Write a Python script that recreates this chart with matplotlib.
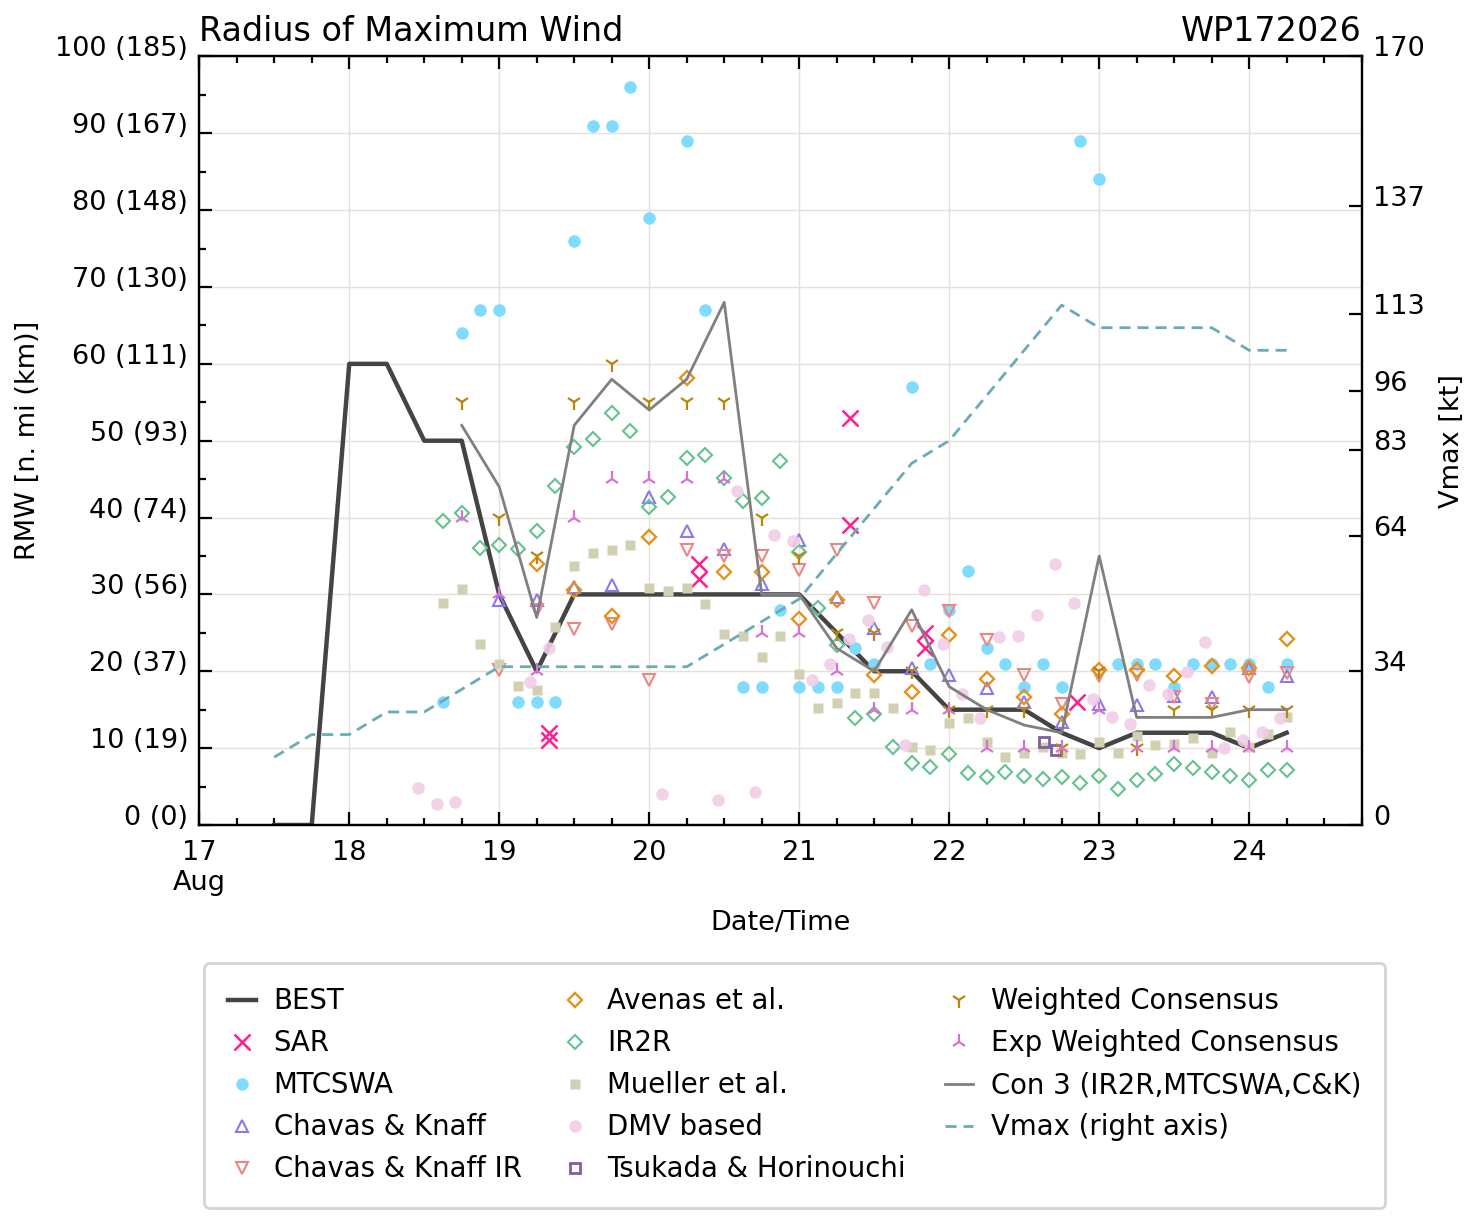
import matplotlib
matplotlib.use("Agg")
import matplotlib.pyplot as plt
from matplotlib.ticker import MultipleLocator

# ---- data: time in days of Aug 2026, RMW in n mi ----
best_t = [17.5, 17.75, 18.0, 18.25, 18.5, 18.75, 19.0, 19.25, 19.5, 19.75, 20.0, 20.25, 20.5, 20.75,
          21.0, 21.25, 21.5, 21.75, 22.0, 22.25, 22.5, 22.75, 23.0, 23.25, 23.5, 23.75, 24.0, 24.25]
best_rmw = [0, 0, 60, 60, 50, 50, 30, 20, 30, 30, 30, 30, 30, 30,
            30, 25, 20, 20, 15, 15, 15, 12, 10, 12, 12, 12, 10, 12]
vmax_kt = [15, 20, 20, 25, 25, 30, 35, 35, 35, 35, 35, 35, 40, 45,
           50, 60, 70, 80, 85, 95, 105, 115, 110, 110, 110, 110, 105, 105]

sar_t = [19.33, 19.33, 20.33, 20.33, 21.34, 21.34, 21.84, 21.84, 22.85]
sar_rmw = [12, 11, 34, 32, 53, 39, 25, 23, 16]

mtc_t = [18.625, 18.75, 18.875, 19.0, 19.125, 19.25, 19.375, 19.5, 19.625, 19.75, 19.875, 20.0,
         20.25, 20.375, 20.625, 20.75, 20.875, 21.0, 21.125, 21.25, 21.375, 21.5, 21.75, 21.875,
         22.0, 22.125, 22.25, 22.375, 22.5, 22.625, 22.75, 22.875, 23.0, 23.125, 23.25, 23.375,
         23.5, 23.625, 23.75, 23.875, 24.0, 24.125, 24.25]
mtc_rmw = [16, 64, 67, 67, 16, 16, 16, 76, 91, 91, 96, 79,
           89, 67, 18, 18, 28, 18, 18, 18, 23, 21, 57, 21,
           28, 33, 23, 21, 18, 21, 18, 89, 84, 21, 21, 21,
           18, 21, 21, 21, 21, 18, 21]

six_t = [19.0, 19.25, 19.5, 19.75, 20.0, 20.25, 20.5, 20.75, 21.0, 21.25, 21.5, 21.75,
         22.0, 22.25, 22.5, 22.75, 23.0, 23.25, 23.5, 23.75, 24.0, 24.25]
ck_rmw = [29.3, 29.3, 31.0, 31.2, 42.7, 38.2, 35.9, 31.4, 37.1, 29.6, 25.6, 20.4,
          19.5, 17.8, 16.0, 13.4, 15.7, 15.6, 16.8, 16.7, 20.4, 19.4]
ckir_rmw = [20.2, 28.0, 25.5, 26.2, 18.9, 35.8, 35.0, 35.0, 33.2, 35.8, 28.9, 25.9,
            27.9, 24.1, 19.5, 15.8, 19.4, 19.5, 16.7, 15.7, 19.2, 19.8]

aven_t = six_t[1:]
aven_rmw = [34.0, 30.6, 27.2, 37.5, 58.1, 32.9, 32.9, 26.8, 29.3, 19.5, 17.3,
            24.7, 19.0, 16.7, 14.5, 20.2, 20.2, 19.4, 20.7, 20.4, 24.2]

ir2r_t = [18.625, 18.75, 18.875, 19.0, 19.125, 19.25, 19.375, 19.5, 19.625, 19.75, 19.875, 20.0,
          20.125, 20.25, 20.375, 20.5, 20.625, 20.75, 20.875, 21.0, 21.125, 21.25, 21.375, 21.5,
          21.625, 21.75, 21.875, 22.0, 22.125, 22.25, 22.375, 22.5, 22.625, 22.75, 22.875, 23.0,
          23.125, 23.25, 23.375, 23.5, 23.625, 23.75, 23.875, 24.0, 24.125, 24.25]
ir2r_rmw = [39.6, 40.6, 36.1, 36.4, 35.9, 38.2, 44.1, 49.2, 50.2, 53.6, 51.2, 41.4,
            42.7, 47.8, 48.1, 45.2, 42.2, 42.5, 47.4, 35.5, 28.2, 23.4, 13.9, 14.5,
            10.2, 8.0, 7.6, 9.2, 6.8, 6.3, 6.9, 6.4, 6.0, 6.2, 5.4, 6.4,
            4.7, 5.8, 6.6, 7.9, 7.4, 6.9, 6.4, 5.9, 7.1, 7.1]
muel_t = ir2r_t
muel_rmw = [28.9, 30.7, 23.6, 21.0, 18.1, 17.5, 25.7, 33.7, 35.4, 35.8, 36.4, 30.8,
            30.5, 30.9, 28.8, 24.9, 24.6, 21.9, 24.6, 19.6, 15.2, 15.9, 17.2, 17.2,
            15.2, 10.2, 9.8, 13.3, 13.9, 10.8, 8.8, 9.4, 10.2, 9.4, 9.2, 10.8,
            9.4, 11.6, 10.4, 10.6, 11.3, 9.4, 12.1, 10.2, 11.8, 14.1]

dmv_t = [18.458, 18.583, 18.708, 19.208, 19.333, 20.083, 20.458, 20.583, 20.708, 20.833, 20.958,
         21.083, 21.208, 21.333, 21.458, 21.583, 21.708, 21.833, 21.958, 22.083, 22.208, 22.333,
         22.458, 22.583, 22.708, 22.833, 22.958, 23.083, 23.208, 23.333, 23.458, 23.583, 23.708,
         23.833, 23.958, 24.083, 24.208]
dmv_rmw = [4.8, 2.7, 3.0, 18.6, 23.0, 4.0, 3.3, 43.5, 4.3, 37.7, 36.9,
           18.9, 21.0, 24.2, 26.7, 23.2, 10.4, 30.6, 23.6, 17.1, 13.9, 24.4,
           24.6, 27.3, 34.0, 28.9, 16.4, 14.0, 13.2, 18.2, 17.1, 19.9, 23.8,
           10.0, 11.1, 12.1, 13.9]

tsuk_t = [22.63, 22.71]
tsuk_rmw = [10.8, 9.8]

cons_t = best_t[5:]
wcons_rmw = [55, 40, 35, 55, 60, 55, 55, 55, 40, 35, 25, 25, 20,
             15, 15, 15, 10, 20, 10, 15, 15, 15, 15]
ewcons_rmw = [40, 30, 20, 40, 45, 45, 45, 45, 25, 25, 20, 15, 15,
              15, 10, 10, 10, 15, 10, 10, 10, 10, 10]
con3_rmw = [52, 44, 27, 52, 58, 54, 58, 68, 30, 30, 23, 20, 28,
            18, 15, 13, 12, 35, 14, 14, 14, 15, 15]

day_ticks = [17, 18, 19, 20, 21, 22, 23, 24]
day_labels = ["17\nAug", "18", "19", "20", "21", "22", "23", "24"]
rmw_ticks = [0, 10, 20, 30, 40, 50, 60, 70, 80, 90, 100]
vmax_ticks = [0, 34, 64, 83, 96, 113, 137, 170]

# ---- plot ----
fs = 19.5
plt.rcParams['font.family'] = 'DejaVu Sans'
fig = plt.figure(figsize=(14.77, 12.22), dpi=100)
ax = fig.add_axes([0.1349, 0.3249, 0.7870, 0.6289])

ax.plot(best_t, best_rmw, color='#444444', lw=3.2, label='BEST')
ax.plot(sar_t, sar_rmw, 'x', color='#ff1f8e', ms=12, mew=1.8, label='SAR')
ax.plot(mtc_t, mtc_rmw, 'o', color='#7fdbff', ms=9, mec='none', label='MTCSWA')
ax.plot(six_t, ck_rmw, '^', color='#8c78ee', ms=8, mfc='none', mew=1.5, label='Chavas & Knaff')
ax.plot(six_t, ckir_rmw, 'v', color='#ee8585', ms=8, mfc='none', mew=1.5, label='Chavas & Knaff IR')
ax.plot(aven_t, aven_rmw, 'D', color='#e6921e', ms=7, mfc='none', mew=1.7, label='Avenas et al.')
ax.plot(ir2r_t, ir2r_rmw, 'D', color='#63c28d', ms=7, mfc='none', mew=1.5, label='IR2R')
ax.plot(muel_t, muel_rmw, 's', color='#d2d0b2', ms=7, mec='none', label='Mueller et al.')
ax.plot(dmv_t, dmv_rmw, 'o', color='#f0cde6', ms=9, mec='none', alpha=0.9, label='DMV based')
ax.plot(tsuk_t, tsuk_rmw, 's', color='#7f5da8', ms=7.5, mfc='none', mew=2, label='Tsukada & Horinouchi')
ax.plot(cons_t, wcons_rmw, '1', color='#b8860b', ms=11, mew=1.6, label='Weighted Consensus')
ax.plot(cons_t, ewcons_rmw, '2', color='#da70d6', ms=11, mew=1.6, label='Exp Weighted Consensus')
ax.plot(cons_t, con3_rmw, color='#808080', lw=2, label='Con 3 (IR2R,MTCSWA,C&K)')

ax2 = ax.twinx()
ax2.plot(best_t, vmax_kt, '--', color='#6aabb4', lw=2, dashes=(4, 2.5), label='Vmax (right axis)')

ax.set_xlim(17, 24.75)
ax.set_ylim(0, 100)
ax2.set_ylim(0, 170)

ax.set_xticks(day_ticks)
ax.set_xticklabels(day_labels, fontsize=fs)
ax.xaxis.set_minor_locator(MultipleLocator(0.25))
ax.set_yticks(rmw_ticks)
ax.set_yticklabels(["%d (%d)" % (v, round(v * 1.852)) for v in rmw_ticks], fontsize=fs, va='baseline')
ax.yaxis.set_minor_locator(MultipleLocator(5))
ax2.set_yticks(vmax_ticks)
ax2.set_yticklabels([str(v) for v in vmax_ticks], fontsize=fs, va='baseline')

ax.tick_params(which='both', direction='in', top=True, right=False, width=1.6, pad=8)
ax.tick_params(axis='x', which='major', pad=11)
ax.tick_params(which='major', length=9.5)
ax.tick_params(which='minor', length=5)
ax2.tick_params(direction='in', length=9.5, width=1.6, pad=8)
for a in (ax, ax2):
    for s in a.spines.values():
        s.set_linewidth(1.6)

ax.grid(True, which='major', color='#e6e0d6', lw=1)
ax.set_axisbelow(True)

ax.set_xlabel('Date/Time', fontsize=fs, labelpad=10)
ax.set_ylabel('RMW [n. mi (km)]', fontsize=fs, labelpad=10)
ax2.set_ylabel('Vmax [kt]', fontsize=fs, labelpad=10)
ax.set_title('Radius of Maximum Wind', loc='left', fontsize=24, pad=11)
ax.set_title('WP172026', loc='right', fontsize=24, pad=11)

h1, l1 = ax.get_legend_handles_labels()
h2, l2 = ax2.get_legend_handles_labels()
leg = fig.legend(h1 + h2, l1 + l2, ncol=3, loc='upper left',
                 bbox_to_anchor=(204 / 1477, 1 - 963 / 1222), borderaxespad=0,
                 fontsize=19.8, handlelength=1.0, handletextpad=0.65, columnspacing=1.45,
                 labelspacing=0.51, borderpad=0.88, framealpha=1, edgecolor='#d4d4d4')
leg.get_frame().set_linewidth(2)

fig.savefig('out.png', dpi=100)
